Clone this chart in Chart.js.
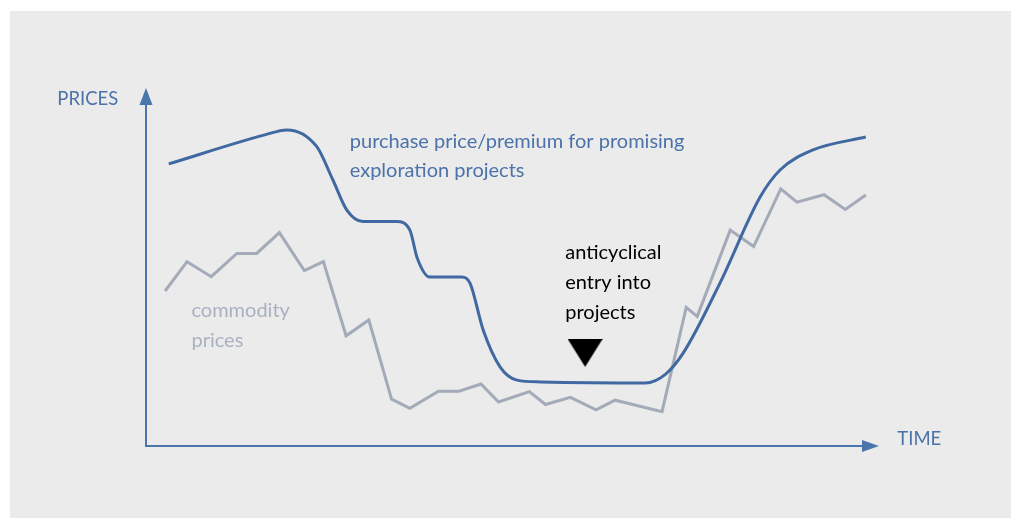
<!DOCTYPE html>
<html>
<head>
<meta charset="utf-8">
<script src="https://cdn.jsdelivr.net/npm/chart.js@4"></script>
<style>
    html, body { margin: 0; padding: 0; background: #ffffff; }
    #panel { position: absolute; left: 10px; top: 11px; width: 1001px; height: 507px; background: #ebebeb; }
    #wrap { position: absolute; left: 0; top: 0; width: 1011px; height: 518px; }
</style>
</head>
<body>
<div id="panel"></div>
<div id="wrap"><canvas id="myChart"></canvas></div>
<script>
// time runs 0..100 along the x axis, prices 0..100 up the y axis
const commodityTime = [2.6, 5.6, 8.9, 12.4, 15.1, 18.2, 21.6, 24.2, 27.3, 30.4, 33.5, 36.0, 39.9, 42.7, 45.7, 48.1, 52.3, 54.5, 57.9, 61.4, 64.0, 70.4, 73.7, 75.2, 79.7, 82.9, 86.6, 88.8, 92.5, 95.4, 98.2];
const commodityPrice = [43.3, 51.5, 47.3, 53.8, 53.8, 59.6, 49.0, 51.5, 30.8, 35.2, 13.1, 10.5, 15.3, 15.3, 17.3, 12.3, 15.2, 11.6, 13.6, 10.1, 12.8, 9.6, 38.7, 36.2, 60.3, 55.7, 71.8, 68.1, 70.2, 66.1, 70.1];

const premiumTime = [3.1, 16.2, 19.2, 23.3, 25.5, 27.4, 29.6, 34.2, 36.0, 37.0, 38.7, 43.1, 44.2, 46.0, 48.3, 50.6, 53.8, 68.1, 70.9, 73.3, 78.3, 83.8, 86.5, 91.0, 98.2];
const premiumPrice = [78.8, 86.9, 88.3, 83.6, 74.3, 65.9, 62.7, 62.7, 60.3, 52.5, 47.2, 47.2, 45.5, 32.4, 22.1, 18.4, 17.9, 17.6, 20.1, 26.0, 45.5, 69.6, 77.1, 82.7, 86.3];

const entryMarker = [59.9, 26.0];

const blueLabel = ['purchase price/premium for promising', 'exploration projects'];
const greyLabel = ['commodity', 'prices'];
const blackLabel = ['anticyclical', 'entry into', 'projects'];

const blue = '#4169a1';
const blueText = '#4b72a9';
const grey = '#a3aab8';
const greyText = '#a9b1c1';
const capsFont = '18.5px Lato, "Open Sans", sans-serif';
const font = '20px Lato, "Open Sans", sans-serif';

const toPoints = (xs, ys) => {
    let pts = [];
    for (let i = 0; i < xs.length; i++) {
        pts.push({ x: xs[i], y: ys[i] });
    }
    return pts;
};

// downward triangle used as the marker
const triangle = document.createElement('canvas');
triangle.width = 35; triangle.height = 28;
const tctx = triangle.getContext('2d');
tctx.fillStyle = '#000000';
tctx.beginPath();
tctx.moveTo(0, 0);
tctx.lineTo(35, 0);
tctx.lineTo(17.5, 28);
tctx.closePath();
tctx.fill();

const drawText = (ctx, chart, lines, x, y, step, color) => {
    const sx = chart.scales.x, sy = chart.scales.y;
    ctx.fillStyle = color;
    for (let i = 0; i < lines.length; i++) {
        ctx.fillText(lines[i], sx.getPixelForValue(x), sy.getPixelForValue(y - i * step));
    }
};

const axesAndLabels = {
    id: 'axesAndLabels',
    afterDatasetsDraw(chart) {
        const ctx = chart.ctx;
        const a = chart.chartArea;
        ctx.save();
        ctx.strokeStyle = '#4b75ad';
        ctx.fillStyle = '#4b75ad';
        ctx.lineWidth = 2;
        ctx.beginPath();
        ctx.moveTo(a.left, a.top + 10);
        ctx.lineTo(a.left, a.bottom);
        ctx.lineTo(a.right - 10, a.bottom);
        ctx.stroke();
        // arrow heads
        ctx.beginPath();
        ctx.moveTo(a.left, a.top);
        ctx.lineTo(a.left - 6.5, a.top + 17);
        ctx.lineTo(a.left + 6.5, a.top + 17);
        ctx.closePath();
        ctx.fill();
        ctx.beginPath();
        ctx.moveTo(a.right, a.bottom);
        ctx.lineTo(a.right - 17, a.bottom - 6);
        ctx.lineTo(a.right - 17, a.bottom + 6);
        ctx.closePath();
        ctx.fill();

        ctx.textAlign = 'left';
        ctx.textBaseline = 'alphabetic';
        ctx.font = capsFont;
        drawText(ctx, chart, ['PRICES'], -12.1, 95.3, 0, blueText);
        drawText(ctx, chart, ['TIME'], 102.5, 0.3, 0, blueText);
        ctx.font = font;
        drawText(ctx, chart, blueLabel, 27.8, 83.2, 8.1, blueText);
        drawText(ctx, chart, greyLabel, 6.2, 36.1, 8.5, greyText);
        drawText(ctx, chart, blackLabel, 57.2, 52.2, 8.3, '#000000');
        ctx.restore();
    }
};

const data = {
    datasets: [{
        label: 'purchase price/premium',
        data: toPoints(premiumTime, premiumPrice),
        borderColor: blue,
        borderWidth: 3,
        pointRadius: 0,
        cubicInterpolationMode: 'monotone',
        fill: false
    }, {
        label: 'commodity prices',
        data: toPoints(commodityTime, commodityPrice),
        borderColor: grey,
        borderWidth: 3,
        pointRadius: 0,
        tension: 0,
        fill: false
    }, {
        label: 'entry',
        data: [{ x: entryMarker[0], y: entryMarker[1] }],
        showLine: false,
        pointStyle: triangle,
        pointRadius: 18,
        clip: false
    }]
};

const config = {
    type: 'line',
    data: data,
    options: {
        responsive: false,
        animation: false,
        events: [],
        layout: { padding: { left: 146, right: 132, top: 88, bottom: 72 } },
        scales: {
            x: { type: 'linear', min: 0, max: 100, display: false },
            y: { type: 'linear', min: 0, max: 100, display: false }
        },
        plugins: {
            legend: { display: false },
            tooltip: { enabled: false }
        }
    },
    plugins: [axesAndLabels]
};

const canvas = document.getElementById('myChart');
canvas.width = 1011;
canvas.height = 518;
const myChart = new Chart(canvas, config);
</script>
</body>
</html>
